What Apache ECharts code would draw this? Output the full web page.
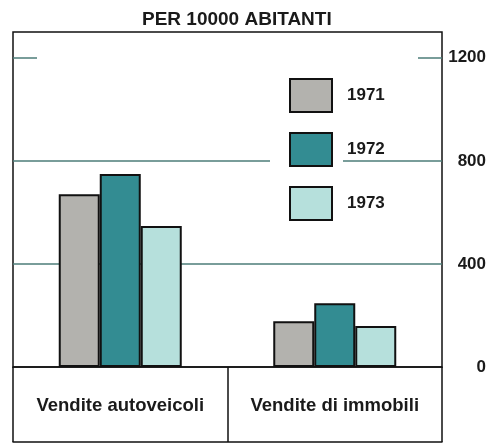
<!DOCTYPE html>
<html>
<head>
<meta charset="utf-8">
<script src="https://cdn.jsdelivr.net/npm/echarts@6/dist/echarts.min.js"></script>
<style>
html,body{margin:0;padding:0;background:#fff;}
#c{width:495px;height:445px;}
</style>
</head>
<body>
<div id="c"></div>
<script>
var titleText = "PER 10000 ABITANTI";
var categories = ["Vendite autoveicoli", "Vendite di immobili"];
var seriesNames = ["1971", "1972", "1973"];
var values1971 = [670, 178];
var values1972 = [749, 247];
var values1973 = [547, 159];
var yTicks = [0, 400, 800, 1200];

var FONT = "Liberation Sans, Arial, Helvetica, sans-serif";
var GRID_COLOR = "#4d7c78";
var colors = ["#b3b2ae", "#338c92", "#b6e0dc"];
var seriesValues = [values1971, values1972, values1973];

var chart = echarts.init(document.getElementById("c"), null, {renderer: "canvas"});

var series = seriesNames.map(function (name, i) {
  var s = {
    name: name,
    type: "bar",
    data: seriesValues[i],
    barWidth: 41,
    barGap: "0%",
    itemStyle: {color: colors[i], borderColor: "#111", borderWidth: 2},
    emphasis: {disabled: true},
    silent: true,
    z: 3
  };
  if (i === 0) {
    var g = yTicks[3], h = yTicks[2];
    s.markLine = {
      silent: true,
      symbol: ["none", "none"],
      label: {show: false},
      lineStyle: {color: GRID_COLOR, width: 1.5, type: "solid"},
      data: [
        [{x: 13, yAxis: g}, {x: 37, yAxis: g}],
        [{x: 418, yAxis: g}, {x: 442, yAxis: g}],
        [{x: 13, yAxis: h}, {x: 270, yAxis: h}],
        [{x: 343, yAxis: h}, {x: 442, yAxis: h}]
      ]
    };
  }
  return s;
});

chart.setOption({
  backgroundColor: "#fff",
  animation: false,
  textStyle: {fontFamily: FONT},
  title: {
    text: titleText,
    left: 137,
    top: 5,
    textStyle: {fontFamily: FONT, fontSize: 19, fontWeight: "bold", color: "#1a1a1a"}
  },
  legend: {
    orient: "vertical",
    left: 289,
    top: 78,
    padding: 0,
    itemWidth: 42,
    itemHeight: 33,
    itemGap: 19,
    icon: "rect",
    selectedMode: false,
    data: seriesNames,
    textStyle: {fontFamily: FONT, fontSize: 17, fontWeight: "bold", color: "#1a1a1a", padding: [0, 0, 0, 10]}
  },
  grid: {
    left: 13, right: 53, top: 32, bottom: 78,
    show: true, borderColor: "#111", borderWidth: 1.5, backgroundColor: "transparent",
    containLabel: false
  },
  xAxis: [{
    type: "category",
    data: categories,
    position: "bottom",
    axisLine: {show: true, lineStyle: {color: "#111", width: 1.5}},
    axisTick: {show: true, length: 75, interval: 0, lineStyle: {color: "#111", width: 1.5}},
    axisLabel: {interval: 0, margin: 29, fontFamily: FONT, fontSize: 18.5, fontWeight: "bold", color: "#1a1a1a"},
    splitLine: {show: false}
  }, {
    type: "category",
    data: categories,
    position: "bottom",
    offset: 75,
    axisLine: {show: true, lineStyle: {color: "#111", width: 1.5}},
    axisTick: {show: false},
    axisLabel: {show: false},
    splitLine: {show: false}
  }],
  yAxis: {
    type: "value",
    position: "right",
    min: 0,
    max: 1300,
    interval: 400,
    axisLine: {show: false},
    axisTick: {show: false},
    axisLabel: {
      showMaxLabel: false,
      align: "right",
      margin: 44,
      fontFamily: FONT, fontSize: 17, fontWeight: "bold", color: "#1a1a1a",
      formatter: function (v) { return yTicks.indexOf(v) >= 0 ? String(v) : ""; }
    },
    splitLine: {
      show: true,
      lineStyle: {color: ["rgba(0,0,0,0)", GRID_COLOR, "rgba(0,0,0,0)", "rgba(0,0,0,0)", "rgba(0,0,0,0)"], width: 1.5}
    }
  },
  series: series
});
</script>
</body>
</html>
